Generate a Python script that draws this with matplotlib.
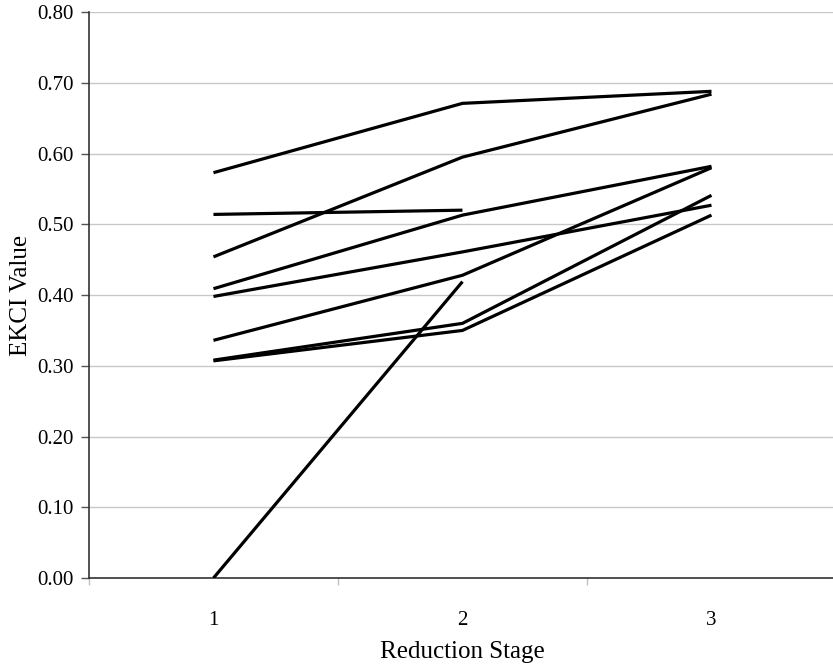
import matplotlib
matplotlib.use("Agg")
import matplotlib.pyplot as plt
import numpy as np

# Reduction stages (categories) and EKCI values per specimen
stages = ["1", "2", "3"]
series_a = [0.573, 0.671, 0.688]
series_b = [0.454, 0.595, 0.684]
series_c = [0.514, 0.520, np.nan]
series_d = [0.409, 0.513, 0.582]
series_e = [0.398, 0.461, 0.527]
series_f = [0.336, 0.428, 0.580]
series_g = [0.308, 0.360, 0.541]
series_h = [0.307, 0.350, 0.513]
series_i = [0.000, 0.419, np.nan]
all_series = [series_a, series_b, series_c, series_d, series_e,
              series_f, series_g, series_h, series_i]

y_ticks = [0.0, 0.1, 0.2, 0.3, 0.4, 0.5, 0.6, 0.7, 0.8]

plt.rcParams["font.family"] = ["Liberation Serif", "DejaVu Serif"]

fig = plt.figure(figsize=(8.33, 6.65), dpi=100)
ax = fig.add_axes([0.1068, 0.1308, 0.8968, 0.851])

x = np.arange(1, len(stages) + 1)
for s in all_series:
    ax.plot(x, s, color="black", linewidth=2.3, solid_capstyle="butt", zorder=3)

ax.set_xlim(0.5, len(stages) + 0.5)
ax.set_ylim(0, 0.8)
ax.set_yticks(y_ticks)
ax.set_yticklabels([f"{v:.2f}" for v in y_ticks], fontsize=15)
ax.yaxis.grid(True, color="#c8c8c8", linewidth=1.0)
ax.set_axisbelow(True)

ax.set_xticks(x)
ax.set_xticklabels(stages, fontsize=15)
ax.set_xticks(np.arange(0.5, len(stages) + 1), minor=True)
ax.tick_params(axis="x", which="major", length=0, pad=23.5)
ax.tick_params(axis="x", which="minor", length=5, color="#c0c0c0", width=1)
ax.tick_params(axis="y", length=6, width=1, color="#555555", pad=5)

for side in ("top", "right"):
    ax.spines[side].set_visible(False)
ax.spines["left"].set_color("#333333")
ax.spines["bottom"].set_color("#333333")
ax.spines["left"].set_linewidth(1.2)
ax.spines["bottom"].set_linewidth(1.2)

ax.set_xlabel("Reduction Stage", fontsize=18)
ax.set_ylabel("EKCI Value", fontsize=18)
ax.xaxis.set_label_coords(0.5, -0.112)
ax.yaxis.set_label_coords(-0.076, 0.5)

fig.savefig("out.png", dpi=100)
